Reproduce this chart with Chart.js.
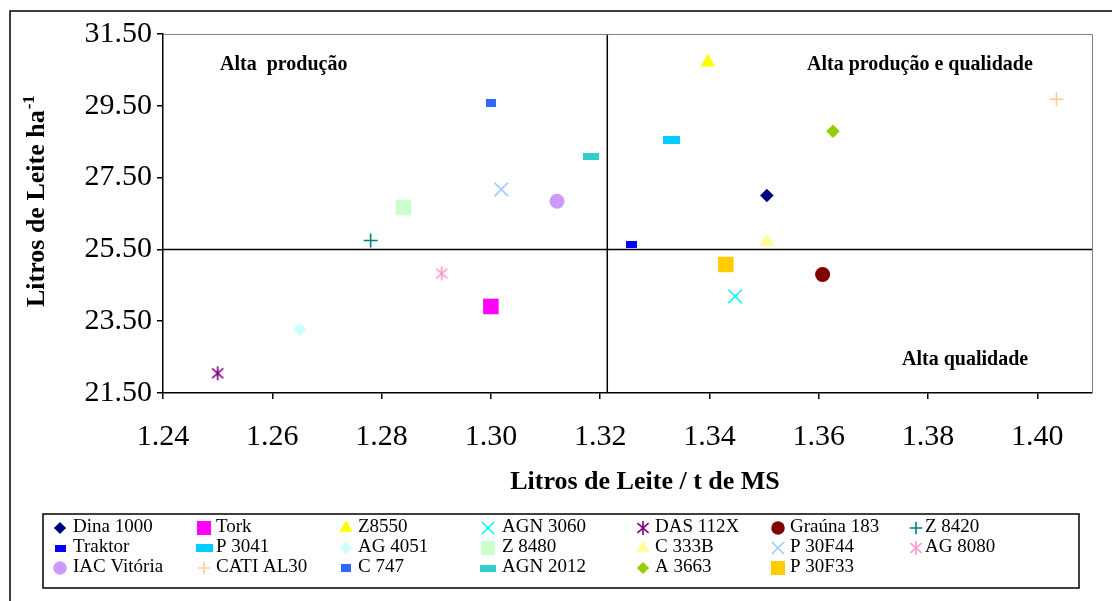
<!DOCTYPE html>
<html>
<head>
<meta charset="utf-8">
<script src="https://cdn.jsdelivr.net/npm/chart.js@4.4.1/dist/chart.umd.min.js"></script>
<style>
  html, body { margin: 0; padding: 0; background: #fff; }
</style>
</head>
<body>
<canvas id="grafico" width="1112" height="601"></canvas>
<script>
// ======================================================
// dados: cultivares, litros de leite / t MS (x) e litros de leite / ha (y)
// ======================================================
const cultivares = ['Dina 1000', 'Tork', 'Z8550', 'AGN 3060', 'DAS 112X', 'Graúna 183', 'Z 8420',
  'Traktor', 'P 3041', 'AG 4051', 'Z 8480', 'C 333B', 'P 30F44', 'AG 8080',
  'IAC Vitória', 'CATI AL30', 'C 747', 'AGN 2012', 'A 3663', 'P 30F33'];
const leitePorMS = [1.3505, 1.300, 1.3397, 1.3447, 1.250, 1.3607, 1.278,
  1.3257, 1.333, 1.265, 1.284, 1.3505, 1.3019, 1.291,
  1.3121, 1.4035, 1.300, 1.3184, 1.3626, 1.343];
const leitePorHa = [27.00, 23.91, 30.71, 24.19, 22.05, 24.80, 25.75,
  25.64, 28.54, 23.27, 26.67, 25.71, 27.17, 24.83,
  26.84, 29.68, 29.59, 28.09, 28.79, 25.08];

const xTicks = [1.24, 1.26, 1.28, 1.30, 1.32, 1.34, 1.36, 1.38, 1.40];
const yTicks = [21.5, 23.5, 25.5, 27.5, 29.5, 31.5];
const divisaoX = 1.3213;
const divisaoY = 25.5;
const quadrantes = ['Alta  produção', 'Alta produção e qualidade', 'Alta qualidade'];

// estilo de cada cultivar (cor e forma do marcador)
const cores = ['#000080', '#FF00FF', '#FFFF00', '#00FFFF', '#800080', '#800000', '#008080',
  '#0000FF', '#00CCFF', '#CCFFFF', '#CCFFCC', '#FFFF99', '#99CCFF', '#FF99CC',
  '#CC99FF', '#FFCC99', '#3366FF', '#33CCCC', '#99CC00', '#FFCC00'];
const formas = ['diamante', 'quadrado', 'triangulo', 'xis', 'asterisco', 'circulo', 'mais',
  'traco1', 'traco2', 'diamante', 'quadrado', 'triangulo', 'xis', 'asterisco',
  'circulo', 'mais', 'traco3', 'traco4', 'diamante', 'quadrado'];

const FONTE = "'Liberation Serif', 'Times New Roman', serif";

function criarTraco(w, h, cor) {
  const c = document.createElement('canvas');
  c.width = w; c.height = h;
  const g = c.getContext('2d');
  g.fillStyle = cor;
  g.fillRect(0, 0, w, h);
  return c;
}

function criarAsterisco(d, cor) {
  const c = document.createElement('canvas');
  c.width = d + 2; c.height = d + 2;
  const g = c.getContext('2d');
  const m = (d + 2) / 2, r = d / 2;
  g.strokeStyle = cor;
  g.lineWidth = 1.6;
  g.beginPath();
  g.moveTo(m, m - r); g.lineTo(m, m + r);
  g.moveTo(m - r * 0.8, m - r * 0.7); g.lineTo(m + r * 0.8, m + r * 0.7);
  g.moveTo(m + r * 0.8, m - r * 0.7); g.lineTo(m - r * 0.8, m + r * 0.7);
  g.stroke();
  return c;
}

function marcador(forma, cor) {
  switch (forma) {
    case 'diamante': return { pointStyle: 'rectRot', radius: 6.8, borderWidth: 0 };
    case 'quadrado': return { pointStyle: 'rect', radius: 11, borderWidth: 0 };
    case 'triangulo': return { pointStyle: 'triangle', radius: 8.5, borderWidth: 0 };
    case 'circulo': return { pointStyle: 'circle', radius: 7.5, borderWidth: 0 };
    case 'xis': return { pointStyle: 'crossRot', radius: 9.5, borderWidth: 1.6 };
    case 'mais': return { pointStyle: 'cross', radius: 7, borderWidth: 1.6 };
    case 'asterisco': return { pointStyle: criarAsterisco(14, cor), radius: 7, borderWidth: 0 };
    case 'traco1': return { pointStyle: criarTraco(11, 7, cor), radius: 6, borderWidth: 0 };
    case 'traco2': return { pointStyle: criarTraco(17, 8, cor), radius: 8, borderWidth: 0 };
    case 'traco3': return { pointStyle: criarTraco(10, 8, cor), radius: 5, borderWidth: 0 };
    case 'traco4': return { pointStyle: criarTraco(16, 7, cor), radius: 8, borderWidth: 0 };
  }
}

const datasets = cultivares.map((nome, i) => {
  const m = marcador(formas[i], cores[i]);
  return {
    label: nome,
    data: [{ x: leitePorMS[i], y: leitePorHa[i] }],
    pointStyle: m.pointStyle,
    pointRadius: m.radius,
    pointBorderWidth: m.borderWidth,
    backgroundColor: cores[i],
    borderColor: cores[i],
    showLine: false
  };
});

// linhas que dividem os quadrantes
datasets.push({
  label: '_divX', type: 'line',
  data: [{ x: divisaoX, y: yTicks[0] }, { x: divisaoX, y: yTicks[yTicks.length - 1] }],
  borderColor: '#000', borderWidth: 1.5, pointRadius: 0, order: 5
});
datasets.push({
  label: '_divY', type: 'line',
  data: [{ x: xTicks[0], y: divisaoY }, { x: 1.41, y: divisaoY }],
  borderColor: '#000', borderWidth: 1.5, pointRadius: 0, order: 5
});

// ======================================================
// plugin: moldura, títulos, rótulos dos quadrantes e legenda
// ======================================================
const extras = {
  id: 'extras',
  afterDraw(chart) {
    const ctx = chart.ctx;
    const a = chart.chartArea;
    ctx.save();

    // moldura externa
    ctx.strokeStyle = '#000';
    ctx.lineWidth = 1.5;
    ctx.strokeRect(10, 11, 1200, 700);

    // bordas superior e direita da área do gráfico
    ctx.strokeStyle = '#808080';
    ctx.lineWidth = 1;
    ctx.beginPath();
    ctx.moveTo(a.left, a.top + 0.5);
    ctx.lineTo(a.right + 0.5, a.top + 0.5);
    ctx.lineTo(a.right + 0.5, a.bottom);
    ctx.stroke();

    ctx.fillStyle = '#000';

    // rótulos dos quadrantes
    ctx.font = 'bold 20px ' + FONTE;
    ctx.textBaseline = 'alphabetic';
    ctx.textAlign = 'left';
    ctx.fillText(quadrantes[0], 220, 70);
    ctx.fillText(quadrantes[1], 807, 70);
    ctx.fillText(quadrantes[2], 902, 365);

    // título eixo x
    ctx.font = 'bold 26px ' + FONTE;
    ctx.textAlign = 'center';
    ctx.fillText('Litros de Leite / t de MS', 645, 489);

    // título eixo y (com sobrescrito)
    ctx.save();
    ctx.translate(44, 307);
    ctx.rotate(-Math.PI / 2);
    ctx.textAlign = 'left';
    ctx.font = 'bold 26px ' + FONTE;
    const principal = 'Litros de Leite ha';
    ctx.fillText(principal, 0, 0);
    const w = ctx.measureText(principal).width;
    ctx.font = 'bold 17px ' + FONTE;
    ctx.fillText('-1', w + 1, -10);
    ctx.restore();

    // legenda
    ctx.strokeStyle = '#000';
    ctx.lineWidth = 1.5;
    ctx.strokeRect(43, 514, 1036, 74);
    const colMarca = [60, 204, 346, 488, 643, 778, 916];
    const colTexto = [73, 216, 358, 502, 655, 790, 925];
    const linhas = [527, 547, 567];
    ctx.font = '19px ' + FONTE;
    ctx.textAlign = 'left';
    ctx.textBaseline = 'middle';
    cultivares.forEach((nome, i) => {
      const col = i % 7, lin = Math.floor(i / 7);
      const ds = chart.data.datasets[i];
      ctx.fillStyle = cores[i];
      ctx.strokeStyle = cores[i];
      ctx.lineWidth = ds.pointBorderWidth || 1;
      const r = typeof ds.pointStyle === 'string' ? ds.pointRadius * 0.9 : ds.pointRadius;
      Chart.helpers.drawPoint(ctx, {
        pointStyle: ds.pointStyle, rotation: 0, radius: r, borderWidth: ds.pointBorderWidth
      }, colMarca[col], linhas[lin] + 1);
      ctx.fillStyle = '#000';
      ctx.fillText(nome, colTexto[col], linhas[lin]);
    });

    ctx.restore();
  }
};

new Chart(document.getElementById('grafico'), {
  type: 'scatter',
  data: { datasets },
  options: {
    responsive: false,
    animation: false,
    devicePixelRatio: 1,
    layout: { padding: { top: 34, right: 20, left: 0, bottom: 0 } },
    plugins: { legend: { display: false }, tooltip: { enabled: false } },
    scales: {
      x: {
        type: 'linear', min: 1.24, max: 1.41,
        afterBuildTicks: s => { s.ticks = xTicks.map(v => ({ value: v })); },
        afterFit: s => { s.height = 208; },
        grid: { drawOnChartArea: false, tickLength: 6, color: '#000', lineWidth: 1.5 },
        border: { color: '#000', width: 1.5 },
        ticks: {
          color: '#000', font: { family: FONTE, size: 30 }, padding: 20,
          maxRotation: 0, autoSkip: false, callback: v => v.toFixed(2)
        }
      },
      y: {
        type: 'linear', min: 21.5, max: 31.5,
        afterBuildTicks: s => { s.ticks = yTicks.map(v => ({ value: v })); },
        afterFit: s => { s.width = 163; },
        grid: { drawOnChartArea: false, tickLength: 6, color: '#000', lineWidth: 1.5 },
        border: { color: '#000', width: 1.5 },
        ticks: {
          color: '#000', font: { family: FONTE, size: 30 }, padding: 5,
          autoSkip: false, callback: v => v.toFixed(2)
        }
      }
    }
  },
  plugins: [extras]
});
</script>
</body>
</html>
